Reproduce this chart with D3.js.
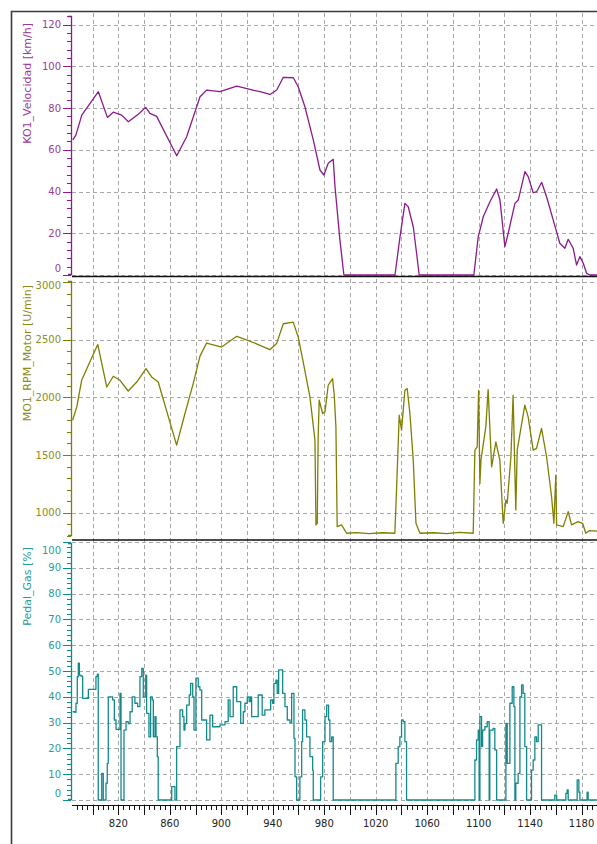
<!DOCTYPE html>
<html><head><meta charset="utf-8">
<script src="https://cdn.jsdelivr.net/npm/d3@7"></script>
<style>
body{margin:0;background:#fff}
svg{display:block}
text{font-family:"DejaVu Sans",Verdana,sans-serif;font-size:10px}
text.title{font-size:11px}
</style>
</head><body>
<svg id="c" width="597" height="844"></svg>
<script>
// ---------- data ----------
const timeDomain = [784, 1192];
const xGridTicks = [800,820,840,860,880,900,920,940,960,980,1000,1020,1040,1060,1080,1100,1120,1140,1160,1180];
const xTickLabels = [820,860,900,940,980,1020,1060,1100,1140,1180];

const speedTicks = [0,20,40,60,80,100,120];
const rpmTicks = [1000,1500,2000,2500,3000];
const pedalTicks = [0,10,20,30,40,50,60,70,80,90,100];

const speedTime = [784.6,787,791.6,804.5,811.5,816.1,822.6,827.8,835.5,841.3,844.6,849.8,865.4,873.1,880.9,883.5,888.7,899,912,922.3,930.1,937.9,943.1,948.2,956,959.8,965,971.5,976.7,979.8,983.1,987,988.4,992.2,995.3,1035,1038.9,1042.7,1045.3,1049.2,1051.8,1053.8,1096.3,1099.7,1103.6,1108.8,1114,1116.6,1120.4,1123,1128.2,1130.8,1136,1138.5,1142.4,1145.1,1149,1152.8,1158,1163.1,1167,1169.6,1173.5,1176.1,1178.7,1181.3,1183.9,1186.5,1192];
const speedVal = [64.7,67,76.6,87.8,75.5,78,76.6,73.4,77,80.3,77.4,76,57.1,66.2,80.6,85.4,88.6,87.8,90.5,88.9,87.8,86.5,88.6,94.7,94.5,90.2,80.6,64.7,50.3,47.9,53.5,55.4,42.3,16.8,0,0,18.3,34.3,32.7,23.1,10.4,0,0,18.3,27.9,35.1,41.2,35.9,13.6,20,34.3,35.9,49.5,47.1,39.4,39.9,44.4,37.5,26.3,15.2,12.8,17.1,12.8,4.8,8.8,5.6,0.8,0,0];

const rpmTime = [784.5,787.7,791.5,796.7,804.0,811.0,816.1,821.3,827.7,834.3,841.5,845.9,851.0,865.3,871.8,878.2,883.4,888.6,900.3,912.0,922.3,930.1,937.8,943.0,948.2,955.9,959.8,963.7,968.9,972.8,973.6,974.6,975.3,976.1,978.8,980.6,983.1,986.5,987.8,989.1,990.1,993.5,997.4,1005,1015,1025,1034.9,1036.3,1038.3,1040.1,1042.7,1044.5,1046.6,1049.2,1051.3,1054.4,1065,1075,1085,1095.8,1097.1,1098.9,1100.0,1101.0,1101.8,1105.6,1107.4,1110.1,1113.4,1116.5,1119.1,1121.2,1122.2,1125.1,1126.8,1128.9,1130.0,1135.9,1138.5,1142.4,1145.0,1148.9,1152.8,1156.7,1158.5,1160.0,1160.6,1165.7,1169.6,1172.2,1177.3,1180.8,1183.3,1185.9,1192];
const rpmVal = [1802,1917,2148,2278,2459,2090,2183,2148,2055,2133,2249,2177,2133,1586,1860,2119,2355,2471,2436,2529,2488,2451,2413,2466,2638,2652,2523,2306,2004,1629,894,908,1657,1975,1860,1874,2105,2163,2018,1744,879,894,822,828,818,826,822,1225,1845,1716,2061,2076,1860,1456,908,822,826,818,830,822,1542,1571,2061,1254,1456,1744,2067,1398,1614,1456,908,1110,1081,1485,2018,1023,1542,1932,1831,1542,1557,1730,1485,1138,908,1326,894,879,1009,894,922,908,822,844,840];

const pedalTime = [784.5,786.3,787.1,788.1,788.9,789.7,791.0,792.3,796.7,802.6,803.7,804.4,807.1,808.3,810.4,811.4,812.2,815.6,816.9,818.2,821.3,822.1,824.4,826.0,827.7,829.1,830.8,832.9,835.0,836.8,838.2,839.4,841.3,842.0,843.8,845.1,846.4,847.2,848.5,849.3,850.3,851.0,861.5,864.0,865.3,867.9,870.0,871.0,871.8,873.1,875.1,876.2,877.8,878.8,880.3,882.1,883.4,884.8,888.6,891.2,893.3,899.0,902.9,905.4,906.8,909.3,912.0,915.1,917.1,918.4,920.2,921.7,922.8,923.6,928.7,931.8,933.9,938.4,939.9,940.9,942.5,943.5,944.6,947.7,949.5,951.3,953.4,954.7,956.5,957.3,958.6,961.1,962.5,963.2,965.0,966.3,968.9,971.0,971.5,977.2,978.8,980.6,981.9,983.4,984.4,985.8,987.0,1035.7,1037.5,1038.8,1040.1,1041.4,1042.7,1044.0,1097.1,1098.4,1099.7,1100.4,1101.0,1102.3,1103.1,1104.9,1106.7,1108.2,1108.7,1111.3,1112.6,1114.0,1121.2,1122.2,1124.3,1126.1,1127.4,1128.2,1128.9,1130.7,1132.1,1133.4,1134.6,1135.9,1137.3,1141.1,1142.4,1143.7,1145.0,1146.3,1148.9,1159.2,1160.6,1167.8,1168.8,1169.6,1176.6,1177.9,1178.7,1184.3,1185.1,1192];
const pedalVal = [34.2,34,37.5,47.8,53,48.4,48,39.4,42.9,47.8,48.8,0,10.3,0,6.5,14.2,40,38.8,31,27.4,41.3,0,27.1,30.4,29.6,34.2,40,37.5,36.2,47.8,51,40,48.4,33.6,24.5,40,38.8,24.5,32.3,24.5,16.8,0,5.2,0,20.7,34.9,32.3,27.1,29.6,36.8,40.7,45.2,40,27.1,47.2,43.9,42.6,31,23.3,32.9,28.4,29.1,30.4,38.8,32.3,43.9,38.1,29.7,34.2,37.5,40,38.1,40,32.3,40.7,32.9,34.9,38.8,37.5,45.2,46.5,41.3,50.4,41.3,36.2,31,30,41.3,23.9,9,0,9,22.6,34.9,31,24.5,16.8,11.6,0,9,22.6,32.3,36.8,31,22.6,24.5,0,14.2,20.7,24.5,31,30.4,22.6,0,15.5,23.3,27.1,0,32.3,20.7,27.1,28.4,30.4,0,27.1,27.8,19.4,0,29.7,14.2,37.5,43.9,36.2,0,6.5,10.3,40,44.6,41.3,20.7,0,11.6,15.5,24.5,22.6,29.1,0,1.9,0,2.6,3.9,0,7.8,3,0,3,0,0];

// ---------- layout ----------
const plotL = 72, plotR = 597;
const axisX = 71;
const svg = d3.select("#c");

const x = d3.scaleLinear().domain(timeDomain).range([plotL, plotR]);

const panels = [
  {title:"KO1_Velocidad [km/h]", color:"#8b1a8b", text:"#993a99",
   y:d3.scaleLinear().domain([0,120]).range([275,24.5]), ticks:speedTicks, minor:4,
   axisTop:16, axisBot:275, clipTop:12, clipBot:276.5, labTop:20, labBot:268, titleTop:23,
   time:speedTime, val:speedVal, curve:d3.curveLinear},
  {title:"MO1_RPM_Motor [U/min]", color:"#7f7f00", text:"#8c8c20",
   y:d3.scaleLinear().domain([1000,3000]).range([512.7,282]), ticks:rpmTicks, minor:100,
   axisTop:281, axisBot:536, clipTop:277.5, clipBot:539.5, labTop:285.5, labBot:530, titleTop:285,
   time:rpmTime, val:rpmVal, curve:d3.curveLinear},
  {title:"Pedal_Gas [%]", color:"#138a8a", text:"#2a9a9a",
   y:d3.scaleLinear().domain([0,100]).range([800,542]), ticks:pedalTicks, minor:2,
   axisTop:543, axisBot:800, clipTop:540.5, clipBot:805, labTop:550.5, labBot:793, titleTop:547,
   time:pedalTime, val:pedalVal, curve:d3.curveStepAfter}
];

// vertical grid
svg.append("g").selectAll("line").data(xGridTicks).join("line")
  .attr("x1", d=>Math.round(x(d))+0.5).attr("x2", d=>Math.round(x(d))+0.5)
  .attr("y1", 13).attr("y2", 805)
  .attr("stroke", "#a8a8a8").attr("stroke-dasharray", "4,3").attr("stroke-width", 1);

panels.forEach((p, i) => {
  svg.append("g").selectAll("line").data(p.ticks).join("line")
    .attr("x1", plotL).attr("x2", plotR)
    .attr("y1", d=>Math.round(p.y(d))+0.5).attr("y2", d=>Math.round(p.y(d))+0.5)
    .attr("stroke", "#a8a8a8").attr("stroke-dasharray", "4,3").attr("stroke-width", 1);

  const ax = svg.append("g");
  ax.append("path")
    .attr("d", `M${axisX-3},${p.axisTop+0.5}H${axisX+0.5}V${p.axisBot-0.5}H${axisX-3}`)
    .attr("fill", "none").attr("stroke", p.color).attr("stroke-width", 1.3);
  const [d0, d1] = [p.y.invert(p.axisBot), p.y.invert(p.axisTop)];
  const minorVals = d3.range(Math.ceil(d0 / p.minor) * p.minor, d1 + 1e-6, p.minor);
  ax.selectAll("line.mn").data(minorVals).join("line").attr("class","mn")
    .attr("x1", axisX-4).attr("x2", axisX)
    .attr("y1", d=>Math.round(p.y(d))+0.5).attr("y2", d=>Math.round(p.y(d))+0.5)
    .attr("stroke", p.color).attr("stroke-width", 1);
  ax.selectAll("line.mj").data(p.ticks).join("line").attr("class","mj")
    .attr("x1", axisX-8).attr("x2", axisX)
    .attr("y1", d=>Math.round(p.y(d))+0.5).attr("y2", d=>Math.round(p.y(d))+0.5)
    .attr("stroke", p.color).attr("stroke-width", 1);
  ax.selectAll("text.tl").data(p.ticks).join("text").attr("class","tl")
    .attr("x", 61)
    .attr("y", d=>Math.max(p.labTop, Math.min(p.labBot, p.y(d))))
    .attr("dy", "0.36em").attr("text-anchor", "end")
    .attr("fill", p.text).text(d=>d);
  svg.append("text").attr("class","title")
    .attr("transform", `translate(30.5,${p.titleTop}) rotate(-90)`)
    .attr("text-anchor", "end").attr("fill", p.text).text(p.title);

  const cid = "clip" + i;
  svg.append("clipPath").attr("id", cid).append("rect")
    .attr("x", plotL).attr("y", p.clipTop).attr("width", plotR - plotL).attr("height", p.clipBot - p.clipTop);
  const pts = p.time.map((t, k) => [t, p.val[k]]);
  const line = d3.line().x(d=>x(d[0])).y(d=>p.y(d[1])).curve(p.curve);
  svg.append("path").datum(pts)
    .attr("clip-path", `url(#${cid})`)
    .attr("d", line).attr("fill", "none")
    .attr("stroke", p.color).attr("stroke-width", 1.3).attr("stroke-linejoin", "round");
});

[276.5, 540].forEach(yy => {
  svg.append("line").attr("x1", plotL).attr("x2", plotR).attr("y1", yy).attr("y2", yy)
    .attr("stroke", "#111").attr("stroke-width", 1.4);
});

const xa = svg.append("g");
xa.append("line").attr("x1", plotL).attr("x2", plotR).attr("y1", 805.5).attr("y2", 805.5)
  .attr("stroke", "#111").attr("stroke-width", 1);
const xMinor = d3.range(788, 1192, 4);
xa.selectAll("line.mn").data(xMinor).join("line").attr("class","mn")
  .attr("x1", d=>Math.round(x(d))+0.5).attr("x2", d=>Math.round(x(d))+0.5)
  .attr("y1", 805.5).attr("y2", 810).attr("stroke", "#111");
xa.selectAll("line.mj").data(xGridTicks).join("line").attr("class","mj")
  .attr("x1", d=>Math.round(x(d))+0.5).attr("x2", d=>Math.round(x(d))+0.5)
  .attr("y1", 805.5).attr("y2", 815).attr("stroke", "#111");
xa.selectAll("text").data(xTickLabels).join("text")
  .attr("x", d=>x(d)).attr("y", 823).attr("dy", "0.36em")
  .attr("text-anchor", "middle").attr("fill", "#222").text(d=>d);

svg.append("path").attr("d", "M11.5,844V11.5H597")
  .attr("fill", "none").attr("stroke", "#3a3a3a").attr("stroke-width", 1.6);
</script>
</body></html>
